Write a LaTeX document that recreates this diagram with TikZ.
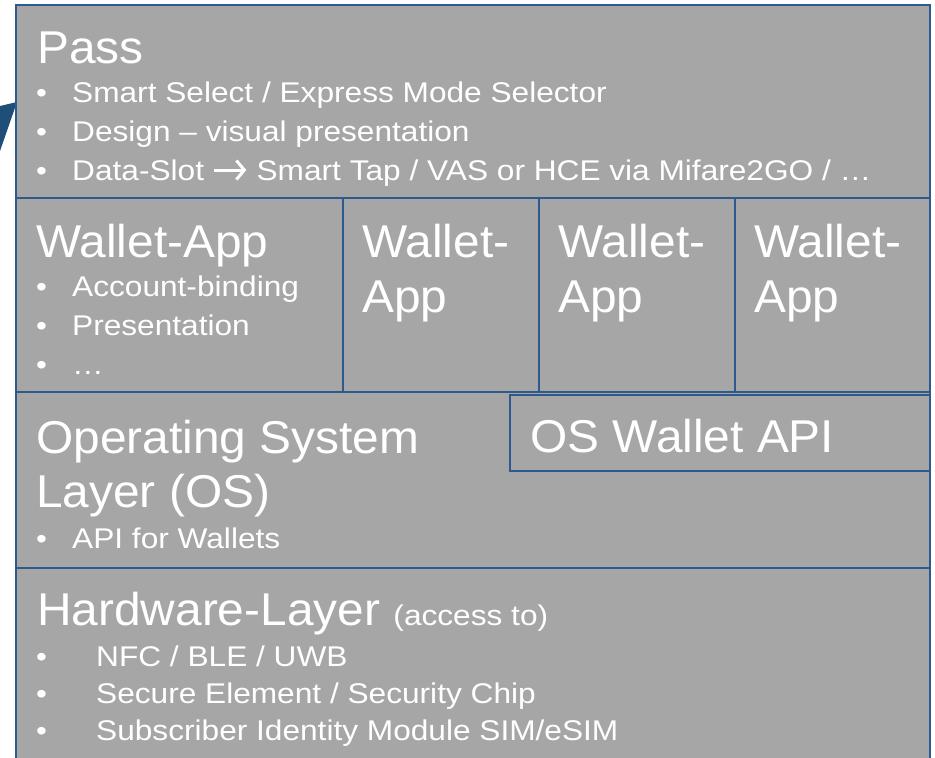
\documentclass[tikz,border=0pt]{standalone}
\usepackage{fontspec}
\usetikzlibrary{arrows.meta}
\setmainfont{Liberation Sans}[FakeStretch=1.04]
\newfontfamily\bulletfont{Liberation Sans}[FakeStretch=1.11]
\definecolor{layergray}{HTML}{A6A6A6}
\definecolor{layerblue}{HTML}{2C5A8C}
\definecolor{wedgeblue}{HTML}{1F4E79}
% bold inline arrow used in the item text
\newcommand{\slotarrow}{\tikz[baseline=0pt]\draw[white, line width=3pt,
  -{Straight Barb[length=8pt, width=19pt, line width=3pt]}] (0pt,10pt) -- (32pt,10pt);}
\tikzset{
  layerbox/.style={draw=layerblue, line width=1.8pt, fill=layergray,
    anchor=north west, inner sep=0pt, outer sep=0pt},
  titletext/.style={text=white, anchor=base west, inner sep=0pt,
    font=\fontsize{46}{55}\selectfont},
  itemtext/.style={text=white, anchor=base west, inner sep=0pt,
    font=\bulletfont\fontsize{28.5}{34}\selectfont},
  dot/.style={text=white, anchor=base west, inner sep=0pt,
    font=\bulletfont\fontsize{28}{34}\selectfont}
}
\begin{document}
\begin{tikzpicture}[x=1pt, y=-1pt]
\useasboundingbox (0,0) rectangle (935,758);

% pointer wedge behind the stack
\fill[wedgeblue] (17,102) -- (0,106) -- (0,151) -- cycle;

% layer boxes
\node[layerbox, minimum width=914pt, minimum height=193pt] (pass) at (16,5) {};
\node[layerbox, minimum width=327pt, minimum height=194pt] (wa1) at (16,198) {};
\node[layerbox, minimum width=196pt, minimum height=194pt] (wa2) at (343,198) {};
\node[layerbox, minimum width=196pt, minimum height=194pt] (wa3) at (539,198) {};
\node[layerbox, minimum width=195pt, minimum height=194pt] (wa4) at (735,198) {};
\node[layerbox, minimum width=914pt, minimum height=176pt] (os) at (16,392) {};
\node[layerbox, minimum width=420pt, minimum height=76pt] (osapi) at (510,395) {};
\node[layerbox, minimum width=914pt, minimum height=210pt] (hw) at (16,568) {};

% Pass
\node[titletext] (passT) at (37,63) {Pass};
\node[dot] (passD1) at (36,102) {•};
\node[itemtext] (passI1) at (72,102) {Smart Select / Express Mode Selector};
\node[dot] (passD2) at (36,141) {•};
\node[itemtext] (passI2) at (72,141) {Design – visual presentation};
\node[dot] (passD3) at (36,180) {•};
\node[itemtext] (passI3) at (72,180) {Data-Slot \slotarrow{} Smart Tap / VAS or HCE via Mifare2GO / …};

% Wallet apps
\node[titletext] (wa1T) at (36,257) {Wallet-App};
\node[dot] (waD1) at (36,296) {•};
\node[itemtext] (waI1) at (72,296) {Account-binding};
\node[dot] (waD2) at (36,335) {•};
\node[itemtext] (waI2) at (72,335) {Presentation};
\node[dot] (waD3) at (36,374) {•};
\node[itemtext] (waI3) at (72,374) {…};

\node[titletext] (wa2T) at (362,257) {Wallet-};
\node[titletext] (wa2U) at (362,312) {App};
\node[titletext] (wa3T) at (558,257) {Wallet-};
\node[titletext] (wa3U) at (558,312) {App};
\node[titletext] (wa4T) at (754,257) {Wallet-};
\node[titletext] (wa4U) at (754,312) {App};

% Operating system
\node[titletext] (osT) at (36,453) {Operating System};
\node[titletext] (osU) at (36,507) {Layer (OS)};
\node[dot] (osD1) at (36,548) {•};
\node[itemtext] (osI1) at (72,548) {API for Wallets};
\node[titletext] (osapiT) at (530,452) {OS Wallet API};

% Hardware
\node[titletext] (hwT) at (37,625) {Hardware-Layer \bulletfont\fontsize{28.5}{34}\selectfont(access to)};
\node[dot] (hwD1) at (36,666) {•};
\node[itemtext] (hwI1) at (96,666) {NFC / BLE / UWB};
\node[dot] (hwD2) at (36,703) {•};
\node[itemtext] (hwI2) at (96,703) {Secure Element / Security Chip};
\node[dot] (hwD3) at (36,740) {•};
\node[itemtext] (hwI3) at (96,740) {Subscriber Identity Module SIM/eSIM};
\end{tikzpicture}
\end{document}
